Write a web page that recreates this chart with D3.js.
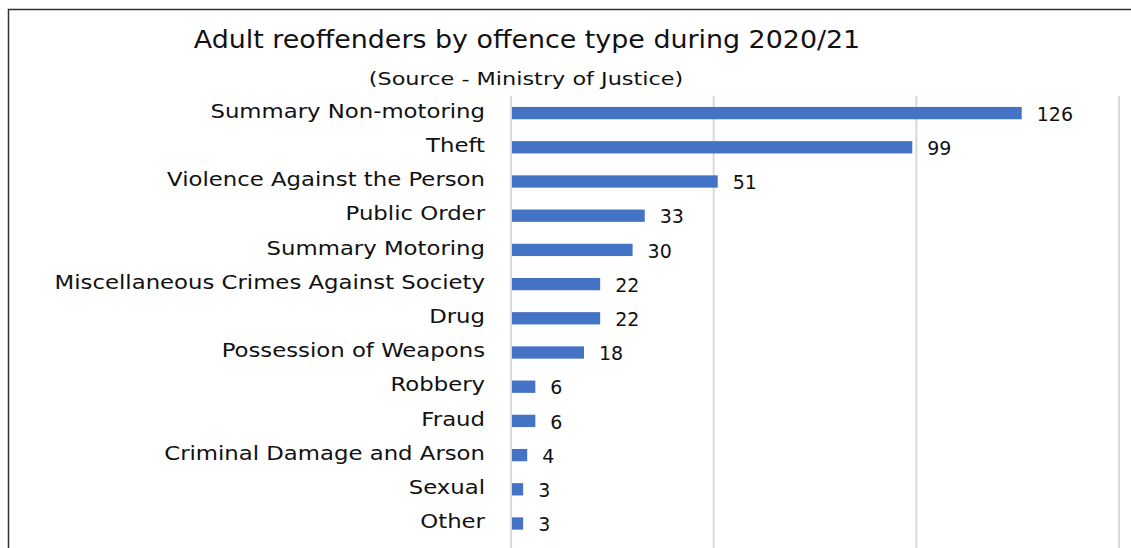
<!DOCTYPE html>
<html>
<head>
<meta charset="utf-8">
<script src="https://cdn.jsdelivr.net/npm/d3@7"></script>
<style>
  html, body { margin: 0; padding: 0; background: #fff; overflow: hidden; }
  svg { display: block; font-family: "DejaVu Sans", sans-serif; }
</style>
</head>
<body>
<svg width="1131" height="548"></svg>
<script>
// chart data
const categories = [
  "Summary Non-motoring", "Theft", "Violence Against the Person", "Public Order",
  "Summary Motoring", "Miscellaneous Crimes Against Society", "Drug",
  "Possession of Weapons", "Robbery", "Fraud", "Criminal Damage and Arson",
  "Sexual", "Other"
];
const values = [126, 99, 51, 33, 30, 22, 22, 18, 6, 6, 4, 3, 3];
const gridTicks = [0, 50, 100, 150];
const title = "Adult reoffenders by offence type during 2020/21";
const subtitle = "(Source - Ministry of Justice)";

const svg = d3.select("svg");

// outer frame (only top + left edges show)
svg.append("rect")
  .attr("x", 8.5).attr("y", 9.5)
  .attr("width", 1200).attr("height", 600)
  .attr("fill", "none")
  .attr("stroke", "#333")
  .attr("stroke-width", 1.5);

const x = d3.scaleLinear().domain([0, 150]).range([511, 1119]);
const y = d3.scaleBand().domain(categories).range([96, 540.6]).paddingInner(0.64).paddingOuter(0.32);

// gridlines
svg.append("g")
  .selectAll("line")
  .data(gridTicks)
  .join("line")
  .attr("x1", d => x(d)).attr("x2", d => x(d))
  .attr("y1", 96).attr("y2", 548)
  .attr("stroke", "#d9d9d9")
  .attr("stroke-width", 2);

// bars
svg.append("g")
  .selectAll("rect")
  .data(values)
  .join("rect")
  .attr("x", x(0) + 1)
  .attr("y", (d, i) => y(categories[i]))
  .attr("width", d => x(d) - x(0) - 1)
  .attr("height", y.bandwidth())
  .attr("fill", "#4472c4");

// category labels (stretched a bit to match the wide original face)
svg.append("g")
  .attr("transform", `translate(${x(0) - 26},0) scale(1.2,1)`)
  .selectAll("text")
  .data(categories)
  .join("text")
  .attr("x", 0)
  .attr("y", d => y(d) + y.bandwidth() / 2 - 2)
  .attr("dy", "0.35em")
  .attr("text-anchor", "end")
  .attr("font-size", 19)
  .attr("fill", "#111")
  .text(d => d);

// value labels
svg.append("g")
  .selectAll("text")
  .data(values)
  .join("text")
  .attr("x", d => x(d) + 15)
  .attr("y", (d, i) => y(categories[i]) + y.bandwidth() / 2 + 1)
  .attr("dy", "0.35em")
  .attr("font-size", 19)
  .attr("fill", "#111")
  .text(d => d);

// titles
svg.append("text")
  .attr("transform", "translate(527,48) scale(1.12,1)")
  .attr("text-anchor", "middle")
  .attr("font-size", 24)
  .attr("fill", "#111")
  .text(title);

svg.append("text")
  .attr("transform", "translate(526,85) scale(1.21,1)")
  .attr("text-anchor", "middle")
  .attr("font-size", 18.5)
  .attr("fill", "#111")
  .text(subtitle);
</script>
</body>
</html>
